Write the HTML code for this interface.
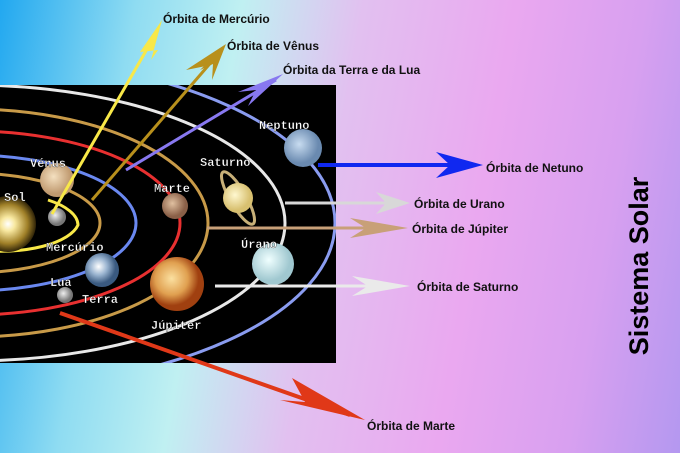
<!DOCTYPE html>
<html><head><meta charset="utf-8"><style>
html,body{margin:0;padding:0}
body{width:680px;height:453px;overflow:hidden;background:linear-gradient(100deg,#22a8f0 0%,#8fdcf2 18%,#c0f0f2 32%,#e2c0f0 48%,#eaa8f0 68%,#d8a0f0 85%,#b498f0 100%);position:relative;font-family:"Liberation Sans",sans-serif}
svg{position:absolute;left:0;top:0}
</style></head><body>
<svg width="680" height="453" viewBox="0 0 680 453">
<defs>
<radialGradient id="sun"><stop offset="0" stop-color="#fff"/><stop offset="0.25" stop-color="#f8e8a0"/><stop offset="0.7" stop-color="#a08028"/><stop offset="1" stop-color="#302408"/></radialGradient>
<radialGradient id="ven" cx="0.4" cy="0.4"><stop offset="0" stop-color="#f4e0c0"/><stop offset="1" stop-color="#c09a70"/></radialGradient>
<radialGradient id="ear" cx="0.4" cy="0.4"><stop offset="0" stop-color="#fff"/><stop offset="0.5" stop-color="#9ab4d0"/><stop offset="1" stop-color="#3a5a80"/></radialGradient>
<radialGradient id="mar" cx="0.4" cy="0.4"><stop offset="0" stop-color="#e0c0a0"/><stop offset="1" stop-color="#8a6048"/></radialGradient>
<radialGradient id="jup" cx="0.4" cy="0.4"><stop offset="0" stop-color="#fbe0a0"/><stop offset="0.6" stop-color="#e0a050"/><stop offset="1" stop-color="#a04010"/></radialGradient>
<radialGradient id="sat" cx="0.4" cy="0.4"><stop offset="0" stop-color="#fff8d0"/><stop offset="1" stop-color="#d8c070"/></radialGradient>
<radialGradient id="ura" cx="0.4" cy="0.4"><stop offset="0" stop-color="#f0ffff"/><stop offset="1" stop-color="#a0c8d0"/></radialGradient>
<radialGradient id="nep" cx="0.4" cy="0.4"><stop offset="0" stop-color="#c8dcf0"/><stop offset="1" stop-color="#6a8ab0"/></radialGradient>
<radialGradient id="gr" cx="0.4" cy="0.4"><stop offset="0" stop-color="#eee"/><stop offset="1" stop-color="#777"/></radialGradient>
<clipPath id="c"><rect x="0" y="85" width="336" height="278"/></clipPath>
</defs>
<rect x="0" y="85" width="336" height="278" fill="#000"/>
<g clip-path="url(#c)" fill="none" stroke-width="3">
<ellipse cx="-30" cy="223" rx="365" ry="166" stroke="#8a9cf0"/>
<ellipse cx="-30" cy="223" rx="315" ry="138" stroke="#e8e8e8"/>
<ellipse cx="-30" cy="223" rx="238" ry="114" stroke="#c89a48"/>
<ellipse cx="-30" cy="223" rx="210" ry="92" stroke="#e83030"/>
<ellipse cx="-30" cy="223" rx="166" ry="68" stroke="#6a88f0"/>
<ellipse cx="-30" cy="223" rx="130" ry="50" stroke="#c89a48"/>
<path d="M48,200 A78,32 0 0 1 78,225 A78,32 0 0 1 -20,250" stroke="#f8e848"/>
<circle cx="8" cy="224" r="28" fill="url(#sun)" stroke="none"/>
<circle cx="57" cy="180" r="17" fill="url(#ven)" stroke="none"/>
<circle cx="57" cy="217" r="9" fill="url(#gr)" stroke="none"/>
<circle cx="102" cy="270" r="17" fill="url(#ear)" stroke="none"/>
<circle cx="65" cy="295" r="8" fill="url(#gr)" stroke="none"/>
<circle cx="175" cy="206" r="13" fill="url(#mar)" stroke="none"/>
<circle cx="177" cy="284" r="27" fill="url(#jup)" stroke="none"/>
<ellipse cx="238" cy="198" rx="8" ry="30" transform="rotate(-30 238 198)" stroke="#c8b078" stroke-width="3"/>
<circle cx="238" cy="198" r="15" fill="url(#sat)" stroke="none"/>
<circle cx="273" cy="264" r="21" fill="url(#ura)" stroke="none"/>
<circle cx="303" cy="148" r="19" fill="url(#nep)" stroke="none"/>
</g>
<g font-family="Liberation Mono,monospace" font-weight="bold" font-size="12" fill="#fff" stroke="#000" stroke-width="0.3">
<text x="4" y="201">Sol</text><text x="30" y="167">Vénus</text><text x="46" y="251">Mercúrio</text>
<text x="50" y="286">Lua</text><text x="82" y="303">Terra</text><text x="154" y="192">Marte</text>
<text x="200" y="166">Saturno</text><text x="259" y="129">Neptuno</text><text x="241" y="248">Úrano</text>
<text x="151" y="329">Júpiter</text>
</g>
<g stroke-width="3">
<line x1="52" y1="214" x2="158" y2="30" stroke="#f8e848"/>
<line x1="92" y1="200" x2="220" y2="52" stroke="#b8901c"/>
<line x1="126" y1="170" x2="276" y2="80" stroke="#8878f0"/>
<line x1="318" y1="165" x2="470" y2="165" stroke="#1028f0" stroke-width="4"/>
<line x1="285" y1="203" x2="400" y2="203" stroke="#d8d8d8"/>
<line x1="207" y1="228" x2="398" y2="228" stroke="#c8a078"/>
<line x1="215" y1="286" x2="400" y2="286" stroke="#eaeaea"/>
<line x1="60" y1="313" x2="350" y2="415" stroke="#e03818" stroke-width="4"/>
</g>
<polygon points="162,20 140,52 158,50 151,60" fill="#f8e848"/>
<polygon points="226,44 200,70 213,64 212,80" fill="#b8901c"/>
<polygon points="226,44 186,70 206,66" fill="#b8901c"/>
<polygon points="283,74 238,92 256,90 248,106" fill="#8878f0"/>
<polygon points="483,165 436,152 450,165 436,178" fill="#1028f0"/>
<polygon points="410,203 376,192 386,203 376,214" fill="#d8d8d8"/>
<polygon points="408,228 350,218 366,228 350,238" fill="#c8a078"/>
<polygon points="410,286 352,276 368,286 352,296" fill="#eaeaea"/>
<polygon points="365,420 280,400 305,402 292,378" fill="#e03818"/>
<g font-size="12" font-weight="bold" fill="#111">
<text x="163" y="23">Órbita de Mercúrio</text>
<text x="227" y="50">Órbita de Vênus</text>
<text x="283" y="74">Órbita da Terra e da Lua</text>
<text x="486" y="172">Órbita de Netuno</text>
<text x="414" y="208">Órbita de Urano</text>
<text x="412" y="233">Órbita de Júpiter</text>
<text x="417" y="291">Órbita de Saturno</text>
<text x="367" y="430">Órbita de Marte</text>
</g>
<text transform="translate(648,266) rotate(-90)" text-anchor="middle" font-size="27" font-weight="bold" fill="#000">Sistema Solar</text>
</svg>
</body></html>
